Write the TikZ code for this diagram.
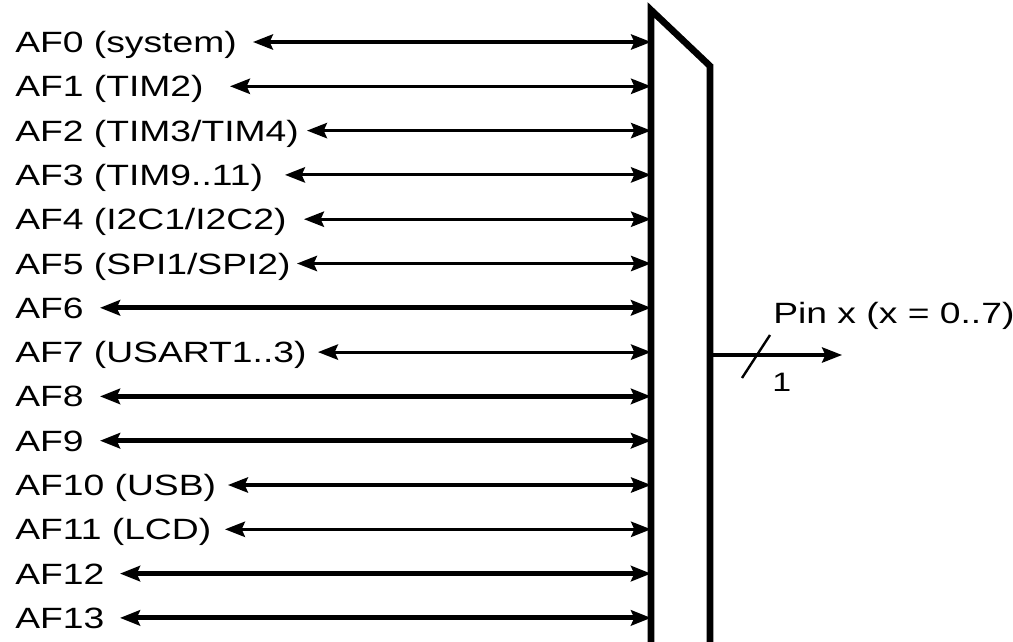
\documentclass[tikz,border=0pt]{standalone}
\usepackage{fontspec}
\setmainfont[FakeStretch=1.27]{Liberation Sans}
\usetikzlibrary{arrows.meta,positioning}
\tikzset{>={Stealth[length=15pt,width=11.5pt,inset=2.5pt]}}
\tikzset{lbl/.style={inner sep=0pt,anchor=base west,font=\fontsize{22pt}{26pt}\selectfont},
  sig/.style={line width=2.3pt,<->},
  sigbold/.style={line width=3.8pt,<->},
  mux/.style={line width=5pt,miter limit=10}}

\begin{document}
\begin{tikzpicture}[x=0.75pt,y=-0.75pt]
\useasboundingbox (0,0) rectangle (1013,642);
% multiplexer outline
\coordinate (muxbl) at (651,650);
\coordinate (muxtop) at (651,10);
\coordinate (muxcorner) at (710,66);
\coordinate (muxbr) at (710,650);
\draw[mux] (muxbl)--(muxtop)--(muxcorner)--(muxbr);
% alternate function inputs
\foreach \n/\txt/\tip/\sty in {0/{AF0 (system)}/253/sig, 1/{AF1 (TIM2)}/230/sig,
  2/{AF2 (TIM3/TIM4)}/307/sig, 3/{AF3 (TIM9..11)}/285/sig,
  4/{AF4 (I2C1/I2C2)}/304/sig, 5/{AF5 (SPI1/SPI2)}/297/sig,
  6/{AF6}/100/sigbold, 7/{AF7 (USART1..3)}/318/sig,
  8/{AF8}/100/sigbold, 9/{AF9}/100/sigbold,
  10/{AF10 (USB)}/228/sig, 11/{AF11 (LCD)}/225/sig,
  12/{AF12}/120/sigbold, 13/{AF13}/120/sigbold}
{
  \node[lbl] (af\n) at (15,{52.5+44.3*\n}) {\txt};
  \coordinate (tip\n) at (\tip,{42+44.3*\n});
  \draw[\sty] (tip\n) -- (tip\n -| muxtop);
}
% output pin
\coordinate (pinout) at (710,355);
\coordinate (pintip) at (842,355);
\draw[line width=2.3pt,->] (pinout) -- (pintip);
\coordinate (slasha) at (742,378);
\coordinate (slashb) at (770,335);
\draw[line width=1.8pt] (slasha) -- (slashb);
\node[lbl] (pinlbl) at (773,323) {Pin x (x = 0..7)};
\node[lbl,font=\fontsize{20pt}{24pt}\selectfont] (buswidth) at (772,391) {1};
\end{tikzpicture}
\end{document}
